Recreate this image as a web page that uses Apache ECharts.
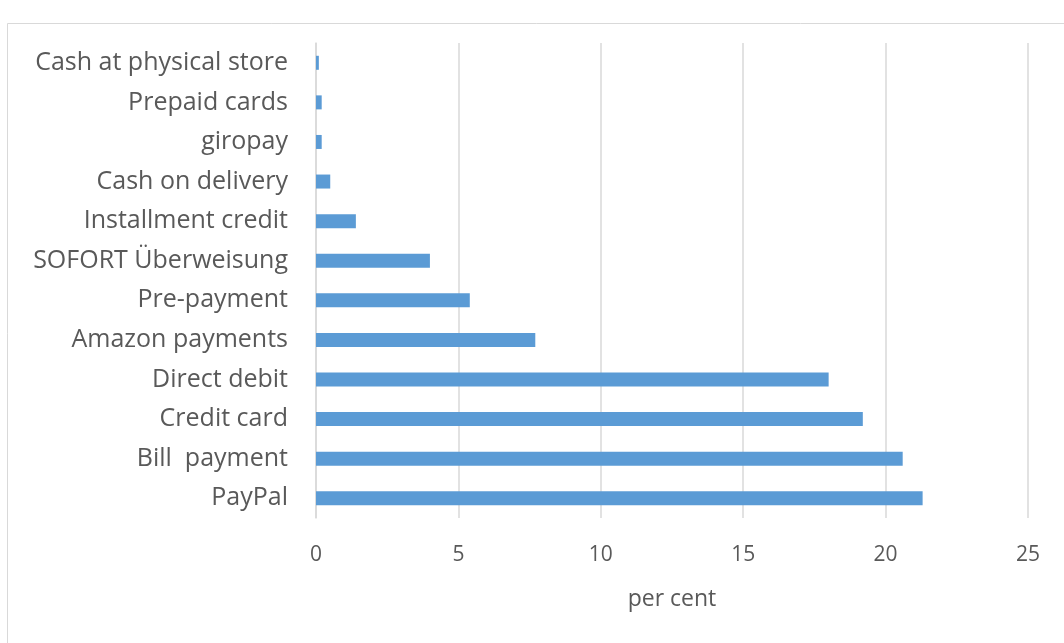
<!DOCTYPE html>
<html><head><meta charset="utf-8">
<script src="https://cdn.jsdelivr.net/npm/echarts@6/dist/echarts.min.js"></script>
<style>html,body{margin:0;padding:0;background:#fff}#c{width:1064px;height:643px}</style>
</head><body><div id="c"></div>
<script>
const categories = ["PayPal","Bill  payment","Credit card","Direct debit","Amazon payments","Pre-payment","SOFORT Überweisung","Installment credit","Cash on delivery","giropay","Prepaid cards","Cash at physical store"];
const values = [21.3, 20.6, 19.2, 18.0, 7.7, 5.4, 4.0, 1.4, 0.5, 0.2, 0.2, 0.1];
const xTicks = [0, 5, 10, 15, 20, 25];
const xName = "per cent";

const chart = echarts.init(document.getElementById('c'), null, {renderer:'canvas'});
const font = "'Open Sans', sans-serif";
chart.setOption({
  animation:false,
  backgroundColor:'#fff',
  graphic:[{type:'rect', shape:{x:7.5,y:23.5,width:1062,height:630}, style:{fill:'none', stroke:'#D9D9D9', lineWidth:1}, silent:true}],
  grid:{left:316, right:36, top:43, bottom:125, containLabel:false},
  xAxis:{type:'value', min:xTicks[0], max:xTicks[xTicks.length-1], interval:5,
    name:xName, nameLocation:'middle', nameGap:70,
    nameTextStyle:{color:'#595959', fontSize:23, fontFamily:font},
    axisLine:{show:false}, axisTick:{show:false},
    axisLabel:{color:'#595959', fontSize:21, fontFamily:font, margin:27},
    splitLine:{lineStyle:{color:'#D9D9D9', width:1.5}}},
  yAxis:{type:'category', data:categories,
    axisLine:{show:true, lineStyle:{color:'#D9D9D9', width:1.5}}, axisTick:{show:false},
    axisLabel:{color:'#595959', fontSize:25, fontFamily:font, margin:28}},
  series:[{type:'bar', data:values, barWidth:14, itemStyle:{color:'#5B9BD5'}}]
});
</script></body></html>
